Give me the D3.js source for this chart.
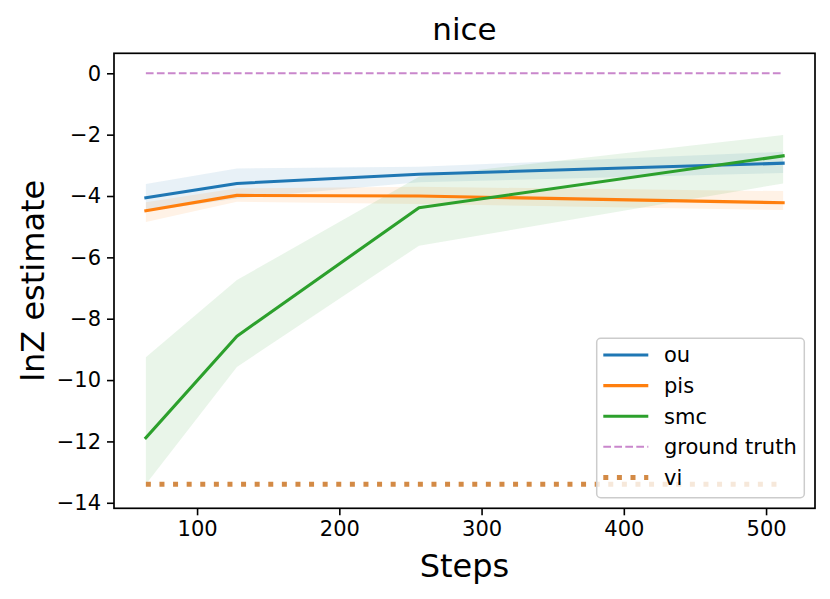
<!DOCTYPE html>
<html>
<head>
<meta charset="utf-8">
<script src="https://cdn.jsdelivr.net/npm/d3@7"></script>
<style>
  html, body { margin: 0; padding: 0; background: #fff; }
  text { font-family: "DejaVu Sans", sans-serif; }
</style>
</head>
<body>
<svg id="chart" width="830" height="599"></svg>
<script>
// ---- data ----
const steps = [64, 128, 256, 512];
const ouMean  = [-4.06, -3.59, -3.29, -2.93];
const ouLow   = [-4.50, -4.08, -3.55, -3.25];
const ouHigh  = [-3.61, -3.10, -3.05, -2.56];
const pisMean = [-4.48, -3.98, -4.00, -4.22];
const pisLow  = [-4.85, -4.19, -4.26, -4.46];
const pisHigh = [-4.20, -3.75, -3.70, -3.84];
const smcMean = [-11.88, -8.57, -4.38, -2.69];
const smcLow  = [-13.40, -9.57, -5.62, -3.59];
const smcHigh = [-9.26, -6.74, -3.37, -2.01];
const groundTruth = 0;
const viValue = -13.40;
const xTicks = [100, 200, 300, 400, 500];
const yTicks = [0, -2, -4, -6, -8, -10, -12, -14];
const legendLabels = ["ou", "pis", "smc", "ground truth", "vi"];

// ---- layout ----
const svg = d3.select("#chart");
const L = 114, R = 815, T = 53.3, B = 508.3;
const x = d3.scaleLinear().domain([41.6, 534.4]).range([L, R]);
const y = d3.scaleLinear().domain([-14.18, 0.652]).range([B, T]);

const colors = { ou: "#1f77b4", pis: "#ff7f0e", smc: "#2ca02c", gt: "#c987cc", vi: "#d38a45" };

const series = [
  { key: "ou", mean: ouMean, low: ouLow, high: ouHigh },
  { key: "pis", mean: pisMean, low: pisLow, high: pisHigh },
  { key: "smc", mean: smcMean, low: smcLow, high: smcHigh }
];

const area = d3.area().x((d) => x(d.s)).y0((d) => y(d.lo)).y1((d) => y(d.hi));
const line = d3.line().x((d) => x(d.s)).y((d) => y(d.v));

const plot = svg.append("g");

series.forEach((s) => {
  const pts = steps.map((st, i) => ({ s: st, lo: s.low[i], hi: s.high[i] }));
  plot.append("path").attr("d", area(pts))
    .attr("fill", colors[s.key]).attr("fill-opacity", 0.1).attr("stroke", "none");
});
series.forEach((s) => {
  const pts = steps.map((st, i) => ({ s: st, v: s.mean[i] }));
  plot.append("path").attr("d", line(pts))
    .attr("fill", "none").attr("stroke", colors[s.key]).attr("stroke-width", 3.1)
    .attr("stroke-linejoin", "round").attr("stroke-linecap", "square");
});

// ground truth
plot.append("path")
  .attr("d", line([{ s: steps[0], v: groundTruth }, { s: steps[steps.length - 1], v: groundTruth }]))
  .attr("stroke", colors.gt).attr("stroke-width", 2).attr("stroke-dasharray", "7.7,3.3").attr("fill", "none");

// vi
plot.append("path")
  .attr("d", line([{ s: steps[0], v: viValue }, { s: steps[steps.length - 1], v: viValue }]))
  .attr("stroke", colors.vi).attr("stroke-width", 5).attr("stroke-dasharray", "5,8.6").attr("fill", "none");

// ---- axes ----
const xAxis = d3.axisBottom(x).tickValues(xTicks).tickSize(7).tickPadding(6).tickFormat(d3.format("d"));
const gx = svg.append("g").attr("transform", `translate(0,${B})`).call(xAxis);
const yAxis = d3.axisLeft(y).tickValues(yTicks).tickSize(7).tickPadding(6)
  .tickFormat((d) => (d < 0 ? "\u2212" + Math.abs(d) : String(d)));
const gy = svg.append("g").attr("transform", `translate(${L},0)`).call(yAxis);
[gx, gy].forEach((g) => {
  g.select(".domain").remove();
  g.selectAll(".tick line").attr("stroke", "#000").attr("stroke-width", 1.6);
  g.selectAll(".tick text").attr("font-size", 21).attr("fill", "#000")
    .attr("font-family", "DejaVu Sans, sans-serif");
});

// spines
svg.append("rect").attr("x", L).attr("y", T).attr("width", R - L).attr("height", B - T)
  .attr("fill", "none").attr("stroke", "#000").attr("stroke-width", 1.7);

// title and labels
svg.append("text").attr("x", (L + R) / 2).attr("y", 40).attr("text-anchor", "middle")
  .attr("font-size", 31).text("nice");
svg.append("text").attr("x", (L + R) / 2).attr("y", 577).attr("text-anchor", "middle")
  .attr("font-size", 32).text("Steps");
svg.append("text").attr("transform", `translate(44,${(T + B) / 2}) rotate(-90)`)
  .attr("text-anchor", "middle").attr("font-size", 32).text("lnZ estimate");

// ---- legend ----
const lg = svg.append("g");
lg.append("rect").attr("x", 596.7).attr("y", 338.3).attr("width", 207.6).attr("height", 159.4)
  .attr("rx", 4).attr("ry", 4).attr("fill", "#fff").attr("fill-opacity", 0.8)
  .attr("stroke", "#cccccc").attr("stroke-width", 1.5);
const rowY = (i) => 355 + i * 30.6;
const handleStyles = [
  { c: colors.ou, w: 3.1, dash: null },
  { c: colors.pis, w: 3.1, dash: null },
  { c: colors.smc, w: 3.1, dash: null },
  { c: colors.gt, w: 2, dash: "7.7,3.3" },
  { c: colors.vi, w: 5, dash: "5,8.6" }
];
legendLabels.forEach((lab, i) => {
  const h = handleStyles[i];
  const ln = lg.append("line").attr("x1", 603.3).attr("x2", 648.3)
    .attr("y1", rowY(i)).attr("y2", rowY(i)).attr("stroke", h.c).attr("stroke-width", h.w);
  if (h.dash) ln.attr("stroke-dasharray", h.dash);
  lg.append("text").attr("x", 664).attr("y", rowY(i)).attr("dy", "0.35em")
    .attr("font-size", 21).text(lab);
});
</script>
</body>
</html>
